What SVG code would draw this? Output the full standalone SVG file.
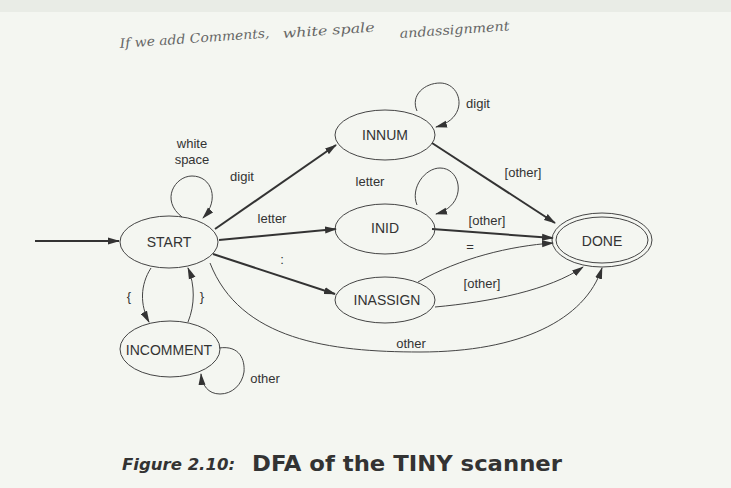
<svg xmlns="http://www.w3.org/2000/svg" width="731" height="488" viewBox="0 0 731 488">
<style>
.node ellipse{fill:none;stroke:#444;stroke-width:1}
.t{font-family:"Liberation Sans",Arial,sans-serif;font-size:13px;fill:#333;text-anchor:middle;dominant-baseline:central}
.n{font-size:14px}
.e{fill:none;stroke:#444;stroke-width:1}
.b{stroke:#333;stroke-width:2}
.hw{font-family:"DejaVu Serif",serif;font-style:italic;font-size:13px;fill:#666}
</style>
<defs>
<marker id="a" viewBox="0 0 12 8" refX="11" refY="4" markerWidth="12" markerHeight="8" markerUnits="userSpaceOnUse" orient="auto">
<path d="M0,0.5 L12,4 L0,7.5 Z" fill="#333"/>
</marker>
</defs>
<rect width="731" height="488" fill="#f4f6f1"/>
<rect width="731" height="12" fill="#e9ece6"/>
<text class="hw" x="120" y="48" textLength="150" lengthAdjust="spacingAndGlyphs" transform="rotate(-4 120 48)">If we add Comments,</text>
<text class="hw" x="283" y="38" textLength="92" lengthAdjust="spacingAndGlyphs" transform="rotate(-4 283 38)">white spale</text>
<text class="hw" x="400" y="38" textLength="110" lengthAdjust="spacingAndGlyphs" transform="rotate(-4 400 38)">andassignment</text>

<g id="connectors">
<path class="e b" d="M35,241 L119,241" marker-end="url(#a)"/>
<path class="e b" d="M215,229 L336,145" marker-end="url(#a)"/>
<path class="e b" d="M219,240 L336,229" marker-end="url(#a)"/>
<path class="e b" d="M213,254 L335,294" marker-end="url(#a)"/>
<path class="e" d="M210,263 C240,340 330,352 420,352 C520,352 585,320 602,268" marker-end="url(#a)"/>
<path class="e" d="M151,268 C140,285 140,305 149,322" marker-end="url(#a)"/>
<path class="e" d="M188,322 C195,305 195,285 188,268" marker-end="url(#a)"/>
<path class="e b" d="M432,143 L555,223" marker-end="url(#a)"/>
<path class="e b" d="M432,229 L553,238" marker-end="url(#a)"/>
<path class="e" d="M418,282 C460,258 510,246 553,243" marker-end="url(#a)"/>
<path class="e" d="M435,307 C490,302 550,290 583,267" marker-end="url(#a)"/>
<path class="e" d="M182,217 C160,200 175,176 192,176 C212,176 220,200 203,218" marker-end="url(#a)"/>
<path class="e" d="M417,111 C410,95 425,83 440,83 C462,83 470,118 436,127" marker-end="url(#a)"/>
<path class="e" d="M417,205 C410,188 425,168 440,168 C462,168 468,205 436,214" marker-end="url(#a)"/>
<path class="e" d="M219,348 C240,345 245,360 244,372 C242,385 232,394 220,394 C208,394 202,385 201,374" marker-end="url(#a)"/>
<text class="t" x="192" y="143">white</text>
<text class="t" x="192" y="159">space</text>
<text class="t" x="242" y="176">digit</text>
<text class="t" x="272" y="218">letter</text>
<text class="t" x="282" y="259">:</text>
<text class="t" x="478" y="103">digit</text>
<text class="t" x="370" y="181">letter</text>
<text class="t" x="523" y="172">[other]</text>
<text class="t" x="487" y="220">[other]</text>
<text class="t" x="470" y="246">=</text>
<text class="t" x="482" y="283">[other]</text>
<text class="t" x="411" y="343">other</text>
<text class="t" x="129" y="296">{</text>
<text class="t" x="202" y="296">}</text>
<text class="t" x="265" y="378">other</text>
</g>

<g id="START" class="node"><ellipse cx="169" cy="242" rx="49" ry="26"/><text class="t n" x="169" y="242">START</text></g>
<g id="INNUM" class="node"><ellipse cx="385" cy="135" rx="50" ry="25"/><text class="t n" x="385" y="135">INNUM</text></g>
<g id="INID" class="node"><ellipse cx="385" cy="229" rx="50" ry="25"/><text class="t n" x="385" y="228">INID</text></g>
<g id="INASSIGN" class="node"><ellipse cx="385" cy="300" rx="50" ry="23"/><text class="t n" x="387" y="300">INASSIGN</text></g>
<g id="INCOMMENT" class="node"><ellipse cx="170" cy="349" rx="50" ry="28"/><text class="t n" x="169" y="350">INCOMMENT</text></g>
<g id="DONE" class="node"><ellipse cx="602" cy="240" rx="50" ry="27"/><ellipse cx="602" cy="240" rx="46" ry="23"/><text class="t n" x="602" y="241">DONE</text></g>

<text x="122" y="470" font-family="DejaVu Sans,sans-serif" font-weight="bold" font-style="italic" font-size="16" fill="#333" textLength="113" lengthAdjust="spacingAndGlyphs">Figure 2.10:</text>
<text x="252" y="471" font-family="DejaVu Sans,sans-serif" font-weight="bold" font-size="21" fill="#333" textLength="310" lengthAdjust="spacingAndGlyphs">DFA of the TINY scanner</text>
</svg>
